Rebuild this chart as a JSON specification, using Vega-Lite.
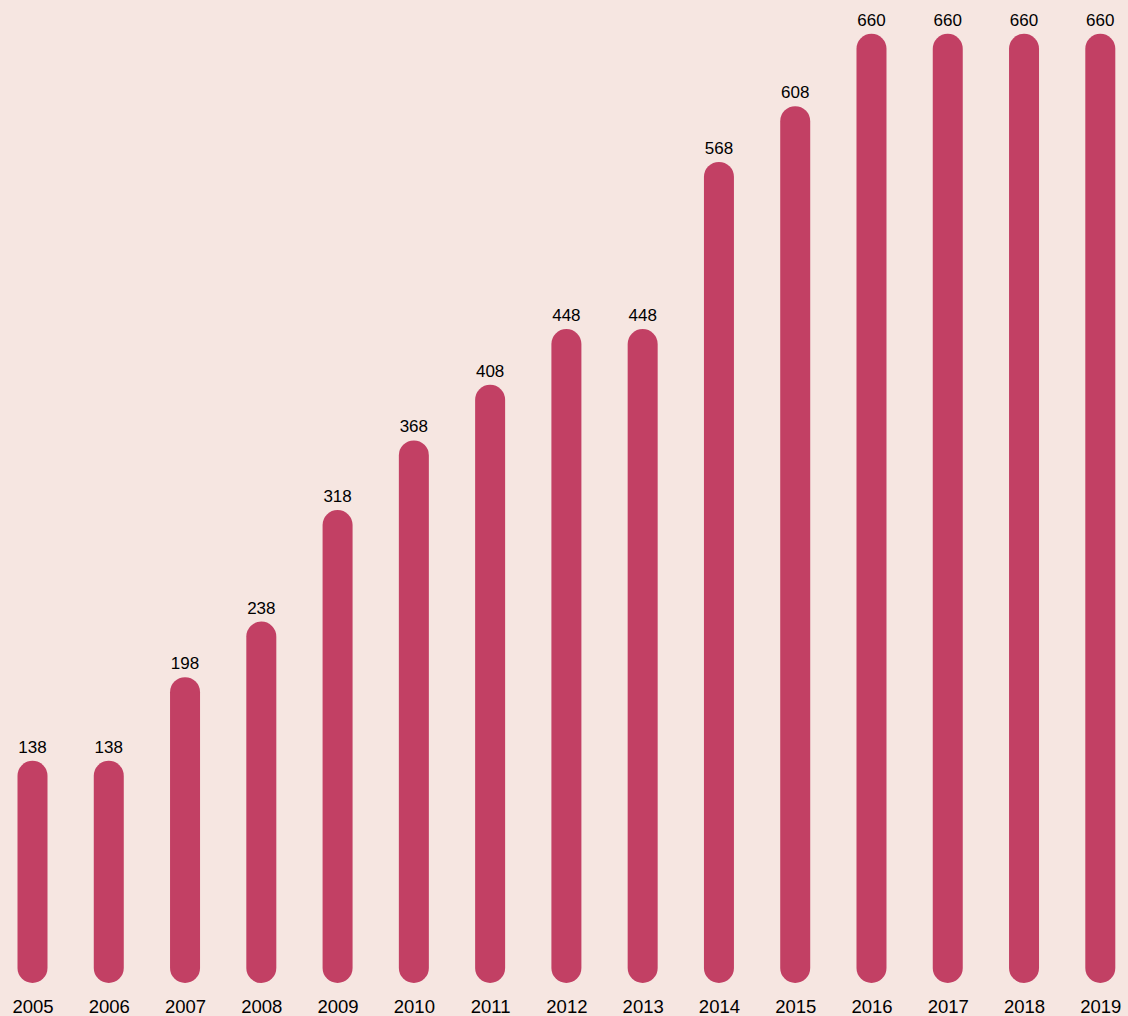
{
  "$schema": "https://vega.github.io/schema/vega-lite/v6.json",
  "width": 1128,
  "height": 968,
  "autosize": {"type": "none"},
  "padding": {"left": 0, "top": 0, "right": 0, "bottom": 48},
  "background": "#f6e6e1",
  "config": {
    "view": {"stroke": null},
    "font": "Liberation Sans"
  },
  "data": {
    "values": [
      {"year": "2005", "value": 138},
      {"year": "2006", "value": 138},
      {"year": "2007", "value": 198},
      {"year": "2008", "value": 238},
      {"year": "2009", "value": 318},
      {"year": "2010", "value": 368},
      {"year": "2011", "value": 408},
      {"year": "2012", "value": 448},
      {"year": "2013", "value": 448},
      {"year": "2014", "value": 568},
      {"year": "2015", "value": 608},
      {"year": "2016", "value": 660},
      {"year": "2017", "value": 660},
      {"year": "2018", "value": 660},
      {"year": "2019", "value": 660}
    ]
  },
  "encoding": {
    "x": {
      "field": "year",
      "type": "ordinal",
      "scale": {"type": "point", "range": [32.5, 1100.3], "padding": 0},
      "axis": {
        "title": null,
        "domain": false,
        "ticks": false,
        "tickSize": 0,
        "labelPadding": 29,
        "labelAngle": 0,
        "labelFontSize": 18.5,
        "labelColor": "#000000",
        "labelFont": "Liberation Sans"
      }
    },
    "y": {"field": "value", "type": "quantitative", "scale": {"domain": [0, 695]}, "axis": null}
  },
  "layer": [
    {
      "mark": {"type": "rule", "strokeWidth": 30, "strokeCap": "round", "color": "#c24064"},
      "encoding": {
        "y2": {"datum": 0}
      }
    },
    {
      "mark": {"type": "text", "dy": -23, "baseline": "alphabetic", "fontSize": 17, "color": "#000000"},
      "encoding": {
        "text": {"field": "value", "type": "quantitative"}
      }
    }
  ]
}
